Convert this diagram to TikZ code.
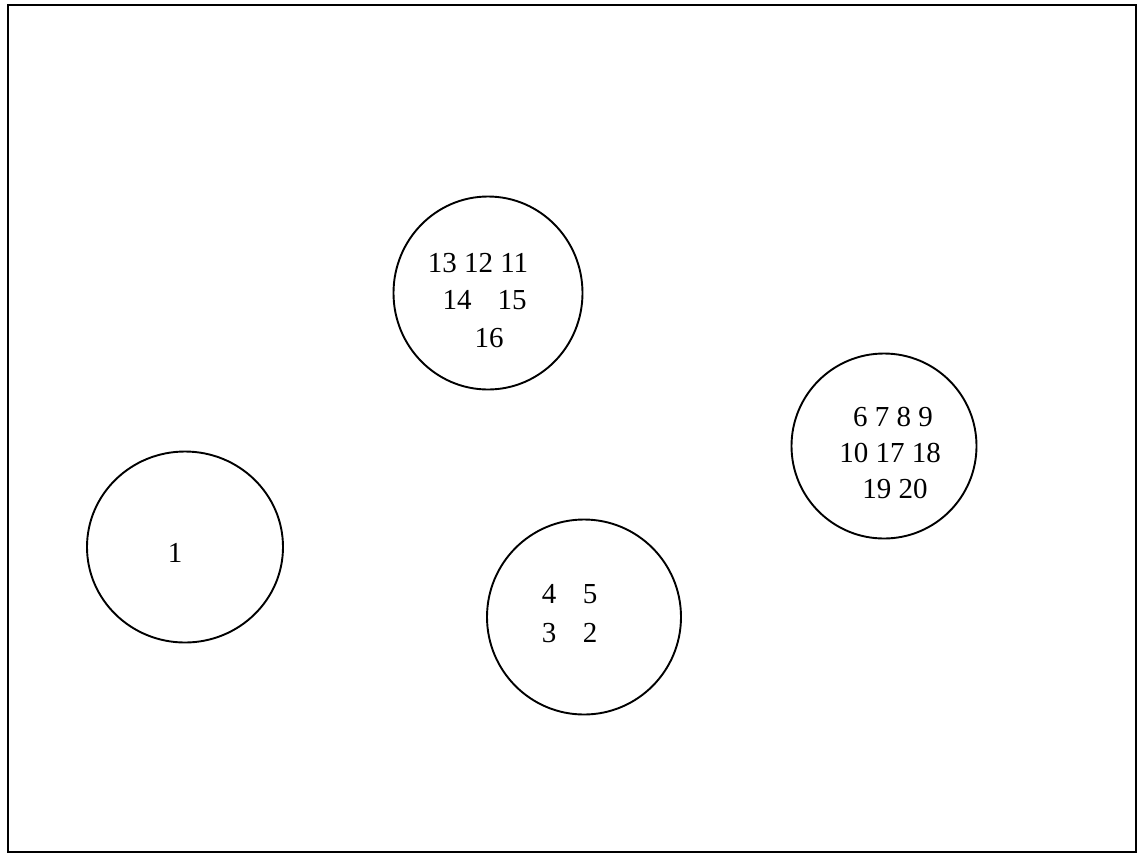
\documentclass[tikz,border=0pt]{standalone}
\usepackage{fontspec}
\setmainfont{Liberation Serif}
\usetikzlibrary{shapes.geometric}
\begin{document}
\begin{tikzpicture}[x=1pt,y=-1pt,
  ring/.style={draw,ellipse,line width=1.9pt,inner sep=0pt},
  num/.style={inner sep=0pt,font=\fontsize{29}{34}\selectfont}]
\useasboundingbox (0,0) rectangle (1140,855);
\draw[line width=2.2pt] (8,5) rectangle (1136,852);
% circles
\node[ring,minimum width=189pt,minimum height=193pt] (ca) at (488,293) {};
\node[ring,minimum width=185pt,minimum height=185pt] (cb) at (884,446) {};
\node[ring,minimum width=194pt,minimum height=195pt] (cc) at (584,617) {};
\node[ring,minimum width=196pt,minimum height=191pt] (cd) at (185,547) {};
% circle A text
\node[num] (a1) at (478,263) {13 12 11};
\node[num] (a2) at (457,300) {14};
\node[num] (a3) at (512,300) {15};
\node[num] (a4) at (489,338) {16};
% circle B text
\node[num] (b1) at (893,417) {6 7 8 9};
\node[num] (b2) at (890,453) {10 17 18};
\node[num] (b3) at (895,489) {19 20};
% circle C text
\node[num] (c1) at (549,594) {4};
\node[num] (c2) at (590,594) {5};
\node[num] (c3) at (549,633) {3};
\node[num] (c4) at (590,633) {2};
% circle D text
\node[num] (d1) at (175,553) {1};
\end{tikzpicture}
\end{document}
